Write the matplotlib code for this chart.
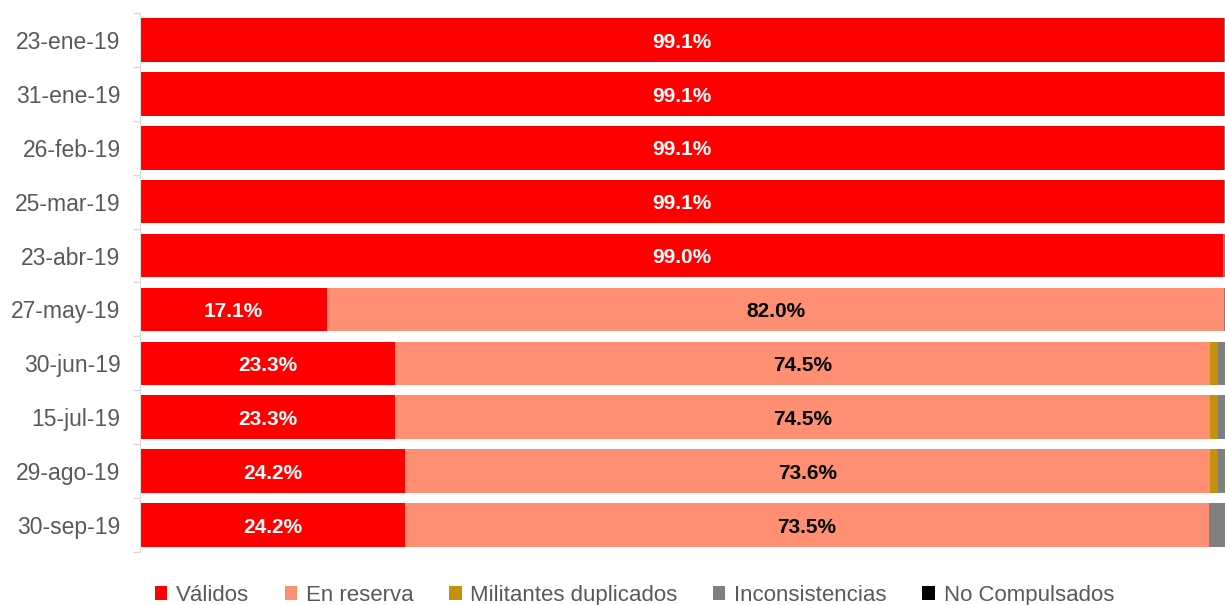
import matplotlib
matplotlib.use("Agg")
import matplotlib.pyplot as plt
import numpy as np
from matplotlib.patches import Patch

plt.rcParams['font.family'] = ['Liberation Sans', 'DejaVu Sans']

dates = ["23-ene-19", "31-ene-19", "26-feb-19", "25-mar-19", "23-abr-19",
         "27-may-19", "30-jun-19", "15-jul-19", "29-ago-19", "30-sep-19"]
validos = [99.1, 99.1, 99.1, 99.1, 99.0, 17.1, 23.3, 23.3, 24.2, 24.2]
reserva = [0.0, 0.0, 0.0, 0.0, 0.0, 82.0, 74.5, 74.5, 73.6, 73.5]
duplicados = [0.0, 0.0, 0.0, 0.0, 0.0, 0.0, 0.8, 0.8, 0.8, 0.0]
inconsist = [0.9, 0.9, 0.9, 0.9, 1.0, 0.9, 1.4, 1.4, 1.4, 2.3]
no_compuls = [0.0, 0.0, 0.0, 0.0, 0.0, 0.0, 0.0, 0.0, 0.0, 0.0]

series_names = ["Válidos", "En reserva", "Militantes duplicados", "Inconsistencias", "No Compulsados"]
colors = ["#FF0000", "#FF8F73", "#C4920A", "#808080", "#000000"]

fig = plt.figure(figsize=(12.25, 6.05), dpi=100)
ax = fig.add_axes([140/1225, (605-552)/605, 1 - 140/1225, (552-13)/605])

y = np.arange(len(dates))
left = np.zeros(len(dates))
all_series = [validos, reserva, duplicados, inconsist, no_compuls]
for vals, col in zip(all_series, colors):
    vals = np.array(vals)
    ax.barh(y, vals, left=left, height=0.81, color=col, edgecolor='none')
    left += vals

for i in range(len(dates)):
    v = validos[i]
    ax.text(v/2, y[i] + 0.04, f"{v:.1f}%", ha='center', va='center', color='white',
            fontsize=15, fontweight='bold')
    r = reserva[i]
    if r > 0:
        ax.text(v + r/2, y[i] + 0.04, f"{r:.1f}%", ha='center', va='center', color='black',
                fontsize=15, fontweight='bold')

ax.set_xlim(0, 99.2)
ax.set_ylim(len(dates) - 0.5, -0.5)
ax.set_yticks(y)
ax.set_yticklabels(dates, fontsize=16.5, color='#595959')
ax.tick_params(axis='y', which='major', length=0, pad=14)
ax.set_yticks(np.arange(-0.5, len(dates), 1), minor=True)
ax.tick_params(axis='y', which='minor', length=5, color='#D9D9D9', width=1)
ax.set_xticks([])
for s in ['top', 'right', 'bottom']:
    ax.spines[s].set_visible(False)
ax.spines['left'].set_color('#D9D9D9')

handles = [Patch(facecolor=c, edgecolor='none') for c in colors]
fig.legend(handles, series_names, loc='lower center', bbox_to_anchor=(0.518, -0.034),
           ncol=5, frameon=False, fontsize=16, labelcolor='#595959',
           handlelength=0.55, handleheight=0.6, handletextpad=0.4, columnspacing=1.6)

fig.savefig("out.png", dpi=100)
